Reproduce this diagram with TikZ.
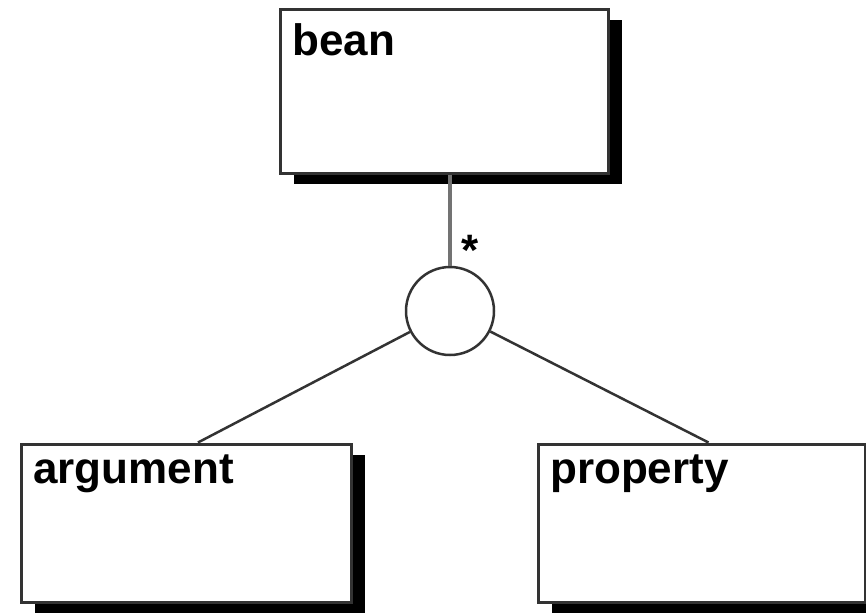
\documentclass[tikz,border=0pt]{standalone}
\usepackage{fontspec}
\setmainfont{Liberation Sans}
\begin{document}
\begin{tikzpicture}[x=1pt,y=-1pt,
  box/.style={draw=black!80, line width=3pt, fill=white, rectangle, inner sep=0pt, anchor=north west},
  lbl/.style={anchor=base west, inner sep=0pt, font=\fontsize{44}{44}\selectfont\bfseries},
  shad/.style={fill=black},
  conn/.style={draw=black!80, line width=2.5pt}]
\useasboundingbox (0,0) rectangle (866,614);
% boxes
\path (278.5,7.5) coordinate (beanNW);
\path (19.5,442.5) coordinate (argNW);
\path (536.5,442.5) coordinate (propNW);
\fill[shad] ([shift={(15,12)}]beanNW) rectangle ++(328,164);
\fill[shad] ([shift={(15,12)}]argNW) rectangle ++(330,158);
\fill[shad] ([shift={(15,12)}]propNW) rectangle ++(327,158);
\node[box, minimum width=328pt, minimum height=164pt] (bean) at (beanNW) {};
\node[box, minimum width=330pt, minimum height=158pt] (arg) at (argNW) {};
\node[box, minimum width=327pt, minimum height=158pt] (prop) at (propNW) {};
\node[lbl] (beanT) at (292,55) {bean};
\node[lbl] (argT) at (33,483) {argument};
\node[lbl] (propT) at (550,483) {property};
% circle
\node[draw=black!80, line width=2.5pt, circle, minimum size=88pt, inner sep=0pt, fill=white] (c) at (450,311) {};
% connectors
\draw[draw=black!55, line width=4pt] (c.north |- bean.south) -- (c.north);
\draw[conn] (c) -- ([xshift=12pt]arg.north);
\draw[conn] (c) -- ([xshift=7pt]prop.north);
\node[lbl, anchor=center] (star) at (470,250) {*};
\end{tikzpicture}
\end{document}
